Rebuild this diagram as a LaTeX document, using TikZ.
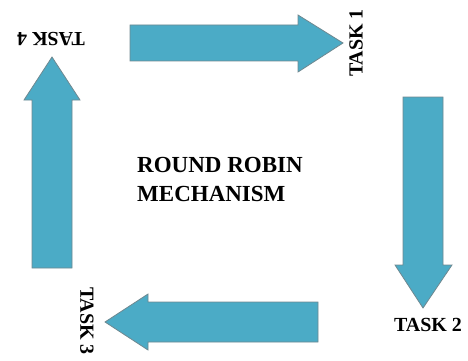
\documentclass[tikz,border=0pt]{standalone}
\usepackage{fontspec}
\setmainfont{Liberation Serif}
\usepackage{xcolor}
\usetikzlibrary{calc}

\definecolor{robinfill}{HTML}{4BABC6}
\definecolor{robinedge}{HTML}{6F8890}

\begin{document}
\begin{tikzpicture}[x = 1pt, y = -1pt,
		block/.style = {fill = robinfill, draw = robinedge, line width = 0.8pt, line join = miter},
		task/.style = {font = \fontsize{20}{20}\selectfont\bfseries, inner sep = 0pt}]
		\useasboundingbox (0,0) rectangle (468,361);
		
		% top arrow, pointing right
		\coordinate (tA) at (130,43);
		\coordinate (tB) at (298,43);
		\coordinate (tC) at (343,43);
		\draw[block] ($(tA)+(0,-18)$) -- ($(tB)+(0,-18)$) -- ($(tB)+(0,-28)$) -- (tC)
			-- ($(tB)+(0,29)$) -- ($(tB)+(0,18)$) -- ($(tA)+(0,18)$) -- cycle;
		
		% right arrow, pointing down
		\coordinate (rA) at (423,97);
		\coordinate (rB) at (423,265);
		\coordinate (rC) at (423,308);
		\draw[block] ($(rA)+(-20,0)$) -- ($(rB)+(-20,0)$) -- ($(rB)+(-28,0)$) -- (rC)
			-- ($(rB)+(29,0)$) -- ($(rB)+(20,0)$) -- ($(rA)+(20,0)$) -- cycle;
		
		% bottom arrow, pointing left
		\coordinate (bA) at (318,322);
		\coordinate (bB) at (148,322);
		\coordinate (bC) at (105,322);
		\draw[block] ($(bA)+(0,-20)$) -- ($(bB)+(0,-20)$) -- ($(bB)+(0,-28)$) -- (bC)
			-- ($(bB)+(0,28)$) -- ($(bB)+(0,20)$) -- ($(bA)+(0,20)$) -- cycle;
		
		% left arrow, pointing up
		\coordinate (lA) at (52,268);
		\coordinate (lB) at (52,100);
		\coordinate (lC) at (52,57);
		\draw[block] ($(lA)+(-20,0)$) -- ($(lB)+(-20,0)$) -- ($(lB)+(-28,0)$) -- (lC)
			-- ($(lB)+(28,0)$) -- ($(lB)+(20,0)$) -- ($(lA)+(20,0)$) -- cycle;
		
		\node[task, rotate = 90] (task1) at (356,43) {TASK 1};
		\node[task] (task2) at (428,325) {TASK 2};
		\node[task, rotate = -90] (task3) at (87,321) {TASK 3};
		\node[task, rotate = 180] (task4) at (51,39) {TASK 4};
		
		\node[task, anchor = north west, align = left, font = \fontsize{23}{29}\selectfont\bfseries]
			(mech) at (137,157) {ROUND ROBIN\\MECHANISM};
	\end{tikzpicture}
\end{document}
